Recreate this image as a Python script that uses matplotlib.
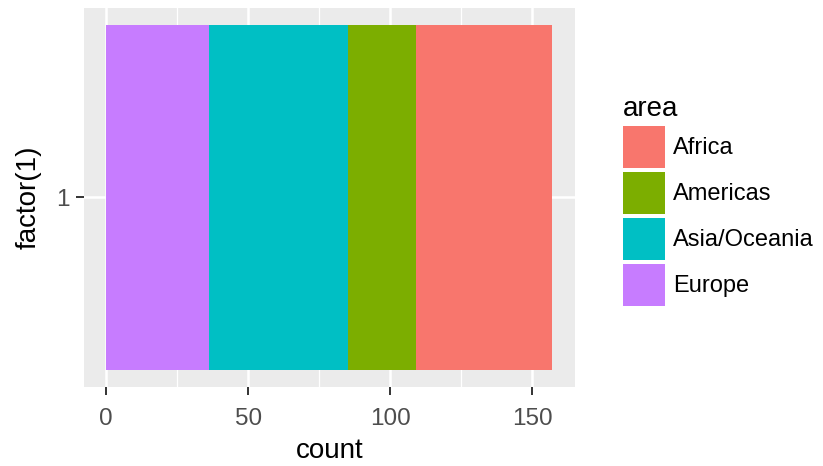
import matplotlib
matplotlib.use('Agg')
import matplotlib.pyplot as plt
import numpy as np

# counts per area (stacked on one bar)
areas = ['Africa', 'Americas', 'Asia/Oceania', 'Europe']
counts = [48, 24, 49, 36]
colors = ['#F8766D', '#7CAE00', '#00BFC4', '#C77CFF']

xticks = [0, 50, 100, 150]
minor_x = [25, 75, 125]

plt.rcParams['font.family'] = ['Liberation Sans', 'DejaVu Sans']

fig = plt.figure(figsize=(8.23, 4.66), dpi=100)
ax = fig.add_axes([84 / 823, 1 - 387 / 466, (574.5 - 84) / 823, (387 - 7.5) / 466])
ax.set_facecolor('#EBEBEB')

# ggplot stacks in reverse order: last level sits at zero
left = 0
handles = {}
for name, c, col in reversed(list(zip(areas, counts, colors))):
    h = ax.barh(1, c, left=left, height=0.9, color=col, linewidth=0, zorder=3)
    handles[name] = h
    left += c

total = sum(counts)
pad = total * 0.05
ax.set_xlim(-pad, total + pad)
ax.set_ylim(0.505, 1.495)

ax.set_xticks(xticks)
ax.set_xticks(minor_x, minor=True)
ax.set_yticks([1])
ax.set_yticklabels(['1'])
ax.grid(which='major', color='white', linewidth=1.8, zorder=1)
ax.grid(which='minor', axis='x', color='white', linewidth=0.9, zorder=1)
for s in ax.spines.values():
    s.set_visible(False)
ax.tick_params(which='major', length=5.5, width=1.4, color='#333333', labelcolor='#4D4D4D',
               labelsize=17.5, pad=4.5)
ax.tick_params(axis='x', which='major', pad=9.5)
ax.tick_params(which='minor', length=0)

ax.set_xlabel('count', fontsize=20, color='black', labelpad=6)
ax.set_ylabel('factor(1)', fontsize=20, color='black', labelpad=11)

leg = ax.legend([handles[a] for a in areas], areas, title='area',
                loc='upper left', bbox_to_anchor=(618 / 823, 1 - 91 / 466),
                bbox_transform=fig.transFigure, frameon=False,
                fontsize=17, title_fontsize=20, handlelength=1.78, handleheight=2.36,
                labelspacing=0.17, handletextpad=0.36, borderaxespad=0, borderpad=0.2,
                alignment='left')

fig.savefig('out.png', dpi=100)
